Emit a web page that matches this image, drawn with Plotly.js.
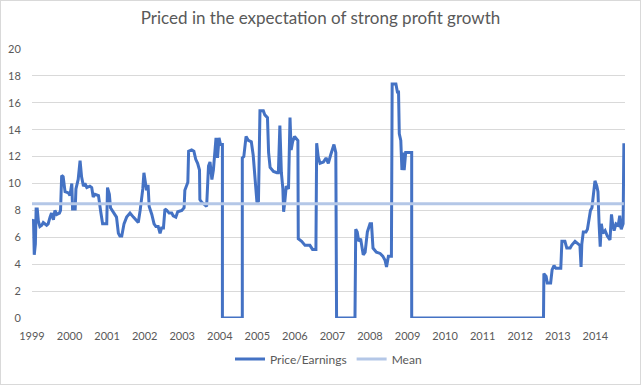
<!DOCTYPE html>
<html>
<head>
<meta charset="utf-8">
<script src="https://cdn.plot.ly/plotly-3.0.1.min.js"></script>
<style>
html,body{margin:0;padding:0;background:#fff;}
#wrap{position:relative;width:641px;height:385px;}
#chart{width:641px;height:385px;}
#frame{position:absolute;left:0;top:0;width:639px;height:383px;border:1px solid #d9d9d9;pointer-events:none;}
</style>
</head>
<body>
<div id="wrap"><div id="chart"></div><div id="frame"></div></div>
<script>
// Decimal-year dates and Price/Earnings values
const years = [
1999.00,1999.04,1999.06,1999.09,1999.11,1999.14,1999.17,1999.21,1999.26,1999.30,
1999.39,1999.43,1999.48,1999.52,1999.57,1999.61,1999.66,1999.73,1999.76,1999.79,
1999.83,1999.88,1999.97,2000.01,2000.06,2000.08,2000.15,2000.17,2000.23,2000.28,
2000.32,2000.37,2000.41,2000.46,2000.54,2000.59,2000.63,2000.68,2000.77,2000.79,
2000.83,2000.88,2000.94,2000.99,2001.01,2001.06,2001.09,2001.17,2001.25,2001.30,
2001.34,2001.39,2001.45,2001.52,2001.61,2001.70,2001.79,2001.83,2001.88,2001.92,
2001.95,2001.98,2002.02,2002.05,2002.09,2002.12,2002.19,2002.25,2002.30,2002.36,
2002.41,2002.45,2002.50,2002.54,2002.59,2002.65,2002.72,2002.76,2002.83,2002.88,
2002.99,2003.05,2003.07,2003.12,2003.15,2003.17,2003.25,2003.31,2003.36,2003.41,
2003.46,2003.47,2003.52,2003.61,2003.65,2003.70,2003.74,2003.79,2003.83,2003.90,
2003.94,2003.98,2004.02,2004.07,2004.07,2004.60,2004.60,2004.64,2004.70,2004.76,
2004.84,2004.89,2004.96,2004.99,2005.03,2005.07,2005.16,2005.20,2005.27,2005.30,
2005.34,2005.43,2005.52,2005.56,2005.60,2005.64,2005.68,2005.70,2005.73,2005.77,
2005.83,2005.87,2005.90,2005.94,2005.99,2006.08,2006.09,2006.18,2006.27,2006.40,
2006.47,2006.56,2006.58,2006.62,2006.67,2006.76,2006.83,2006.89,2006.95,2007.04,
2007.09,2007.11,2007.60,2007.62,2007.66,2007.70,2007.75,2007.82,2007.87,2007.93,
2008.00,2008.04,2008.08,2008.17,2008.27,2008.34,2008.40,2008.44,2008.49,2008.57,
2008.59,2008.69,2008.73,2008.76,2008.78,2008.82,2008.85,2008.88,2008.91,2008.95,
2009.11,2009.11,2012.62,2012.63,2012.69,2012.72,2012.81,2012.85,2012.90,2012.95,
2013.08,2013.11,2013.19,2013.24,2013.33,2013.37,2013.46,2013.55,2013.59,2013.62,
2013.64,2013.68,2013.75,2013.79,2013.84,2013.87,2013.91,2013.95,2013.99,2014.04,
2014.07,2014.10,2014.13,2014.16,2014.20,2014.26,2014.32,2014.39,2014.43,2014.46,
2014.50,2014.55,2014.61,2014.65,2014.69,2014.74,2014.76
];
const priceEarnings = [
7.2,7.3,4.7,5.5,8.1,8.1,7.2,6.8,6.9,7.1,
6.9,7.0,7.5,7.8,7.3,8.0,7.7,7.8,8.0,10.6,
10.5,9.4,9.3,9.1,10.0,8.1,8.1,9.6,10.3,11.7,
10.5,9.8,10.0,9.7,9.8,9.7,9.0,9.2,9.1,8.8,
7.9,7.0,7.0,7.0,9.7,9.2,8.2,7.8,7.5,6.3,
6.1,6.1,7.0,7.5,7.8,7.5,7.2,7.1,8.0,8.8,
9.6,10.8,10.2,9.5,9.9,8.3,7.7,7.0,6.8,6.8,
6.3,6.7,6.7,8.1,8.0,7.8,7.8,7.6,7.5,7.9,
8.0,8.2,9.5,9.8,10.1,12.4,12.5,12.4,11.8,11.5,
11.0,8.8,8.6,8.4,8.3,11.3,11.6,10.3,11.0,13.4,
11.9,13.4,12.9,12.9,0,0,11.9,12.0,13.5,13.2,
13.1,12.1,9.2,8.6,8.7,15.4,15.4,15.1,14.9,12.3,
11.2,10.9,10.8,10.8,14.3,10.8,9.6,7.9,8.6,9.8,
9.6,14.9,12.5,13.1,13.5,13.2,5.9,5.7,5.4,5.4,
5.1,5.1,13.0,12.0,11.5,11.6,11.9,11.5,12.1,12.9,
12.3,0,0,6.6,6.4,5.7,5.9,4.7,4.9,6.4,
7.0,7.0,5.2,4.9,4.8,4.6,4.3,3.8,4.6,4.6,
17.4,17.4,16.8,16.8,13.7,13.2,11.0,12.3,11.0,12.3,
12.3,0,0,3.3,3.1,2.6,2.6,3.6,3.9,3.7,
3.7,5.7,5.7,5.2,5.2,5.4,5.7,5.5,5.4,3.8,
5.5,6.4,6.4,6.6,7.7,8.0,8.2,9.2,10.2,9.8,
9.4,7.0,5.3,7.0,6.3,6.5,6.1,5.8,7.7,7.0,
6.5,7.0,6.9,7.6,6.6,7.0,13.0
];
const meanYears = [1999.00, 2014.76];
const meanValue = [8.5, 8.5];
const tickYears = [1999,2000,2001,2002,2003,2004,2005,2006,2007,2008,2009,2010,2011,2012,2013,2014];
const yTicks = [0,2,4,6,8,10,12,14,16,18,20];

const FONT = 'Lato, "Open Sans", sans-serif';
const traces = [
  {x: years, y: priceEarnings, type: 'scatter', mode: 'lines', name: 'Price/Earnings',
   line: {color: '#4472C4', width: 3}},
  {x: meanYears, y: meanValue, type: 'scatter', mode: 'lines', name: 'Mean',
   line: {color: '#B4C7E7', width: 3}}
];
const layout = {
  width: 641, height: 385,
  margin: {l: 32, r: 16, t: 49, b: 63},
  paper_bgcolor: '#ffffff', plot_bgcolor: '#ffffff',
  font: {family: FONT, color: '#595959', size: 11},
  title: {text: 'Priced in the expectation of strong profit growth',
          font: {family: FONT, size: 17, color: '#595959'},
          x: 0.5, xanchor: 'center', y: 0.953, yanchor: 'middle'},
  xaxis: {range: [1999.0, 2014.79], tickvals: tickYears, ticktext: tickYears.map(String),
          showgrid: false, zeroline: false, showline: false,
          ticks: 'outside', ticklen: 8, tickcolor: 'rgba(0,0,0,0)',
          tickfont: {size: 11, color: '#595959'}, fixedrange: true},
  yaxis: {range: [0, 20], tickvals: yTicks, showgrid: true, gridcolor: '#D9D9D9', gridwidth: 1,
          zeroline: false, showline: false,
          ticks: 'outside', ticklen: 8, tickcolor: 'rgba(0,0,0,0)',
          tickfont: {size: 11, color: '#595959'}, fixedrange: true},
  showlegend: true,
  legend: {orientation: 'h', x: 0.5, xanchor: 'center', y: -0.152, yanchor: 'middle',
           font: {size: 12, color: '#595959'}, bgcolor: 'rgba(0,0,0,0)'}
};
Plotly.newPlot('chart', traces, layout, {staticPlot: true, displayModeBar: false});
</script>
</body>
</html>
